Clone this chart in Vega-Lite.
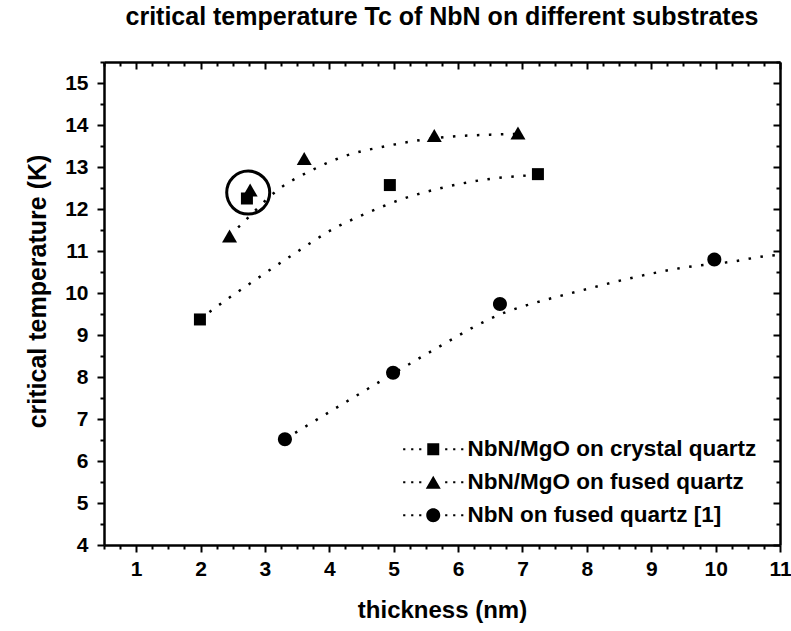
{
  "$schema": "https://vega.github.io/schema/vega-lite/v6.json",
  "width": 676,
  "height": 483,
  "autosize": {"type": "none"},
  "padding": {"left": 104, "top": 62, "right": 11, "bottom": 86},
  "background": "white",
  "title": {
    "text": "critical temperature Tc of NbN on different substrates",
    "font": "Liberation Sans",
    "fontSize": 25,
    "fontWeight": "bold",
    "color": "black",
    "anchor": "middle",
    "baseline": "alphabetic",
    "offset": 1
  },
  "config": {"view": {"stroke": null}, "font": "Liberation Sans"},
  "datasets": {
    "points": [
      {"series": "NbN/MgO on crystal quartz", "thickness": 1.99, "tc": 9.37},
      {"series": "NbN/MgO on crystal quartz", "thickness": 2.72, "tc": 12.25},
      {"series": "NbN/MgO on crystal quartz", "thickness": 4.94, "tc": 12.57},
      {"series": "NbN/MgO on crystal quartz", "thickness": 7.24, "tc": 12.83},
      {"series": "NbN/MgO on fused quartz", "thickness": 2.45, "tc": 11.36},
      {"series": "NbN/MgO on fused quartz", "thickness": 2.77, "tc": 12.45},
      {"series": "NbN/MgO on fused quartz", "thickness": 3.61, "tc": 13.2},
      {"series": "NbN/MgO on fused quartz", "thickness": 5.63, "tc": 13.75},
      {"series": "NbN/MgO on fused quartz", "thickness": 6.93, "tc": 13.81},
      {"series": "NbN on fused quartz [1]", "thickness": 3.31, "tc": 6.52},
      {"series": "NbN on fused quartz [1]", "thickness": 4.99, "tc": 8.1},
      {"series": "NbN on fused quartz [1]", "thickness": 6.65, "tc": 9.74},
      {"series": "NbN on fused quartz [1]", "thickness": 9.98, "tc": 10.8}
    ],
    "fits": [
      {"series": "NbN/MgO on crystal quartz", "thickness": 1.99, "tc": 9.37},
      {"series": "NbN/MgO on crystal quartz", "thickness": 2.15, "tc": 9.56},
      {"series": "NbN/MgO on crystal quartz", "thickness": 2.79, "tc": 10.25},
      {"series": "NbN/MgO on crystal quartz", "thickness": 3.44, "tc": 10.92},
      {"series": "NbN/MgO on crystal quartz", "thickness": 4.09, "tc": 11.55},
      {"series": "NbN/MgO on crystal quartz", "thickness": 4.58, "tc": 11.9},
      {"series": "NbN/MgO on crystal quartz", "thickness": 5.1, "tc": 12.22},
      {"series": "NbN/MgO on crystal quartz", "thickness": 5.74, "tc": 12.5},
      {"series": "NbN/MgO on crystal quartz", "thickness": 6.37, "tc": 12.69},
      {"series": "NbN/MgO on crystal quartz", "thickness": 7.01, "tc": 12.79},
      {"series": "NbN/MgO on crystal quartz", "thickness": 7.2, "tc": 12.81},
      {"series": "NbN/MgO on fused quartz", "thickness": 2.45, "tc": 11.36},
      {"series": "NbN/MgO on fused quartz", "thickness": 2.61, "tc": 11.6},
      {"series": "NbN/MgO on fused quartz", "thickness": 3.23, "tc": 12.49},
      {"series": "NbN/MgO on fused quartz", "thickness": 3.75, "tc": 12.94},
      {"series": "NbN/MgO on fused quartz", "thickness": 4.24, "tc": 13.26},
      {"series": "NbN/MgO on fused quartz", "thickness": 4.89, "tc": 13.5},
      {"series": "NbN/MgO on fused quartz", "thickness": 5.41, "tc": 13.64},
      {"series": "NbN/MgO on fused quartz", "thickness": 5.87, "tc": 13.72},
      {"series": "NbN/MgO on fused quartz", "thickness": 6.5, "tc": 13.77},
      {"series": "NbN/MgO on fused quartz", "thickness": 6.93, "tc": 13.79},
      {"series": "NbN on fused quartz [1]", "thickness": 3.31, "tc": 6.52},
      {"series": "NbN on fused quartz [1]", "thickness": 3.8, "tc": 6.98},
      {"series": "NbN on fused quartz [1]", "thickness": 4.48, "tc": 7.61},
      {"series": "NbN on fused quartz [1]", "thickness": 5.3, "tc": 8.36},
      {"series": "NbN on fused quartz [1]", "thickness": 5.93, "tc": 8.92},
      {"series": "NbN on fused quartz [1]", "thickness": 6.23, "tc": 9.18},
      {"series": "NbN on fused quartz [1]", "thickness": 6.75, "tc": 9.55},
      {"series": "NbN on fused quartz [1]", "thickness": 7.07, "tc": 9.71},
      {"series": "NbN on fused quartz [1]", "thickness": 7.84, "tc": 10.03},
      {"series": "NbN on fused quartz [1]", "thickness": 8.67, "tc": 10.35},
      {"series": "NbN on fused quartz [1]", "thickness": 9.44, "tc": 10.59},
      {"series": "NbN on fused quartz [1]", "thickness": 10.27, "tc": 10.75},
      {"series": "NbN on fused quartz [1]", "thickness": 10.79, "tc": 10.88},
      {"series": "NbN on fused quartz [1]", "thickness": 11.0, "tc": 10.91}
    ],
    "highlight": [
      {"thickness": 2.74, "tc": 12.39}
    ]
  },
  "resolve": {"axis": {"x": "independent", "y": "independent"}, "scale": {"shape": "independent"}},
  "layer": [
    {
      "data": {"name": "fits"},
      "mark": {"type": "line", "color": "black", "strokeWidth": 2.5, "strokeDash": [2.5, 9.5], "interpolate": "monotone"},
      "encoding": {
        "x": {
          "field": "thickness", "type": "quantitative",
          "scale": {"domain": [0.5, 11], "nice": false, "zero": false},
          "axis": {
            "orient": "bottom",
            "values": [0.5,0.75,1,1.25,1.5,1.75,2,2.25,2.5,2.75,3,3.25,3.5,3.75,4,4.25,4.5,4.75,5,5.25,5.5,5.75,6,6.25,6.5,6.75,7,7.25,7.5,7.75,8,8.25,8.5,8.75,9,9.25,9.5,9.75,10,10.25,10.5,10.75,11],
            "labelExpr": "datum.value % 1 === 0 ? format(datum.value, 'd') : ''",
            "labelFont": "Liberation Sans", "labelFontSize": 21, "labelFontWeight": "bold", "labelColor": "black",
            "labelPadding": 6, "labelOverlap": false, "labelFlush": false,
            "tickColor": "black", "tickWidth": 2,
            "tickSize": {"condition": {"test": "datum.value % 1 === 0", "value": 7}, "value": 4},
            "domainColor": "black", "domainWidth": 2.5, "grid": false,
            "title": "thickness (nm)", "titleFont": "Liberation Sans", "titleFontSize": 24, "titleFontWeight": "bold", "titleColor": "black", "titlePadding": 19
          }
        },
        "y": {
          "field": "tc", "type": "quantitative",
          "scale": {"domain": [4, 15.5], "nice": false, "zero": false},
          "axis": {
            "orient": "left",
            "values": [4,4.5,5,5.5,6,6.5,7,7.5,8,8.5,9,9.5,10,10.5,11,11.5,12,12.5,13,13.5,14,14.5,15,15.5],
            "labelExpr": "datum.value % 1 === 0 ? format(datum.value, 'd') : ''",
            "labelFont": "Liberation Sans", "labelFontSize": 21, "labelFontWeight": "bold", "labelColor": "black",
            "labelPadding": 9, "labelOverlap": false, "labelFlush": false,
            "tickColor": "black", "tickWidth": 2,
            "tickSize": {"condition": {"test": "datum.value % 1 === 0", "value": 7}, "value": 4},
            "domainColor": "black", "domainWidth": 2.5, "grid": false,
            "title": "critical temperature (K)", "titleFont": "Liberation Sans", "titleFontSize": 25, "titleFontWeight": "bold", "titleColor": "black",
            "titleAngle": -90, "titleAlign": "center", "titleBaseline": "alphabetic", "titleX": -59, "titleY": 229
          }
        },
        "detail": {"field": "series", "type": "nominal"}
      }
    },
    {
      "data": {"name": "points"},
      "mark": {"type": "point", "filled": true, "color": "black", "opacity": 1, "strokeWidth": 0, "size": 225},
      "encoding": {
        "x": {
          "field": "thickness", "type": "quantitative",
          "axis": {
            "orient": "top",
            "values": [0.5,0.75,1,1.25,1.5,1.75,2,2.25,2.5,2.75,3,3.25,3.5,3.75,4,4.25,4.5,4.75,5,5.25,5.5,5.75,6,6.25,6.5,6.75,7,7.25,7.5,7.75,8,8.25,8.5,8.75,9,9.25,9.5,9.75,10,10.25,10.5,10.75,11],
            "labels": false, "title": null,
            "tickColor": "black", "tickWidth": 2,
            "tickSize": {"condition": {"test": "datum.value % 1 === 0", "value": -7}, "value": -4},
            "domainColor": "black", "domainWidth": 2.5, "grid": false
          }
        },
        "y": {
          "field": "tc", "type": "quantitative",
          "axis": {
            "orient": "right",
            "values": [4,4.5,5,5.5,6,6.5,7,7.5,8,8.5,9,9.5,10,10.5,11,11.5,12,12.5,13,13.5,14,14.5,15,15.5],
            "labels": false, "title": null,
            "tickColor": "black", "tickWidth": 2,
            "tickSize": {"condition": {"test": "datum.value % 1 === 0", "value": -7}, "value": -4},
            "domainColor": "black", "domainWidth": 2.5, "grid": false
          }
        },
        "shape": {
          "field": "series", "type": "nominal", "legend": null,
          "scale": {
            "domain": ["NbN/MgO on crystal quartz", "NbN/MgO on fused quartz", "NbN on fused quartz [1]"],
            "range": ["M-0.8,-0.8h1.6v1.6h-1.6Z", "M0,-0.867L-1,0.867L1,0.867Z", "M-0.933,0A0.933,0.933,0,1,1,0.933,0A0.933,0.933,0,1,1,-0.933,0Z"]
          }
        }
      }
    },
    {
      "data": {"name": "points"},
      "transform": [{"filter": "false"}],
      "mark": {"type": "point", "filled": true, "color": "black", "opacity": 1, "strokeWidth": 0},
      "encoding": {
        "shape": {
          "field": "series", "type": "nominal",
          "scale": {
            "domain": ["NbN/MgO on crystal quartz", "NbN/MgO on fused quartz", "NbN on fused quartz [1]"],
            "range": [
              "M-0.6,-0.6h1.2v1.2h-1.2Z M-3.01,-0.11h0.22v0.22h-0.22Z M-2.21,-0.11h0.22v0.22h-0.22Z M-1.41,-0.11h0.22v0.22h-0.22Z M1.19,-0.11h0.22v0.22h-0.22Z M1.99,-0.11h0.22v0.22h-0.22Z M2.79,-0.11h0.22v0.22h-0.22Z",
              "M0,-0.65L-0.75,0.65L0.75,0.65Z M-3.01,-0.11h0.22v0.22h-0.22Z M-2.21,-0.11h0.22v0.22h-0.22Z M-1.41,-0.11h0.22v0.22h-0.22Z M1.19,-0.11h0.22v0.22h-0.22Z M1.99,-0.11h0.22v0.22h-0.22Z M2.79,-0.11h0.22v0.22h-0.22Z",
              "M-0.7,0A0.7,0.7,0,1,1,0.7,0A0.7,0.7,0,1,1,-0.7,0Z M-3.01,-0.11h0.22v0.22h-0.22Z M-2.21,-0.11h0.22v0.22h-0.22Z M-1.41,-0.11h0.22v0.22h-0.22Z M1.19,-0.11h0.22v0.22h-0.22Z M1.99,-0.11h0.22v0.22h-0.22Z M2.79,-0.11h0.22v0.22h-0.22Z"
            ]
          },
          "legend": {
            "orient": "none", "legendX": 318, "legendY": 376, "title": null, "padding": 0,
            "symbolSize": 400, "symbolFillColor": "black", "symbolStrokeWidth": 0, "symbolOpacity": 1,
            "labelFont": "Liberation Sans", "labelFontSize": 22.5, "labelFontWeight": "bold", "labelColor": "black",
            "labelOffset": 23, "labelLimit": 500, "rowPadding": 10
          }
        }
      }
    },
    {
      "data": {"name": "highlight"},
      "mark": {"type": "point", "shape": "circle", "filled": false, "color": "black", "opacity": 1, "size": 1849, "strokeWidth": 3},
      "encoding": {
        "x": {"field": "thickness", "type": "quantitative", "axis": null},
        "y": {"field": "tc", "type": "quantitative", "axis": null}
      }
    }
  ]
}
